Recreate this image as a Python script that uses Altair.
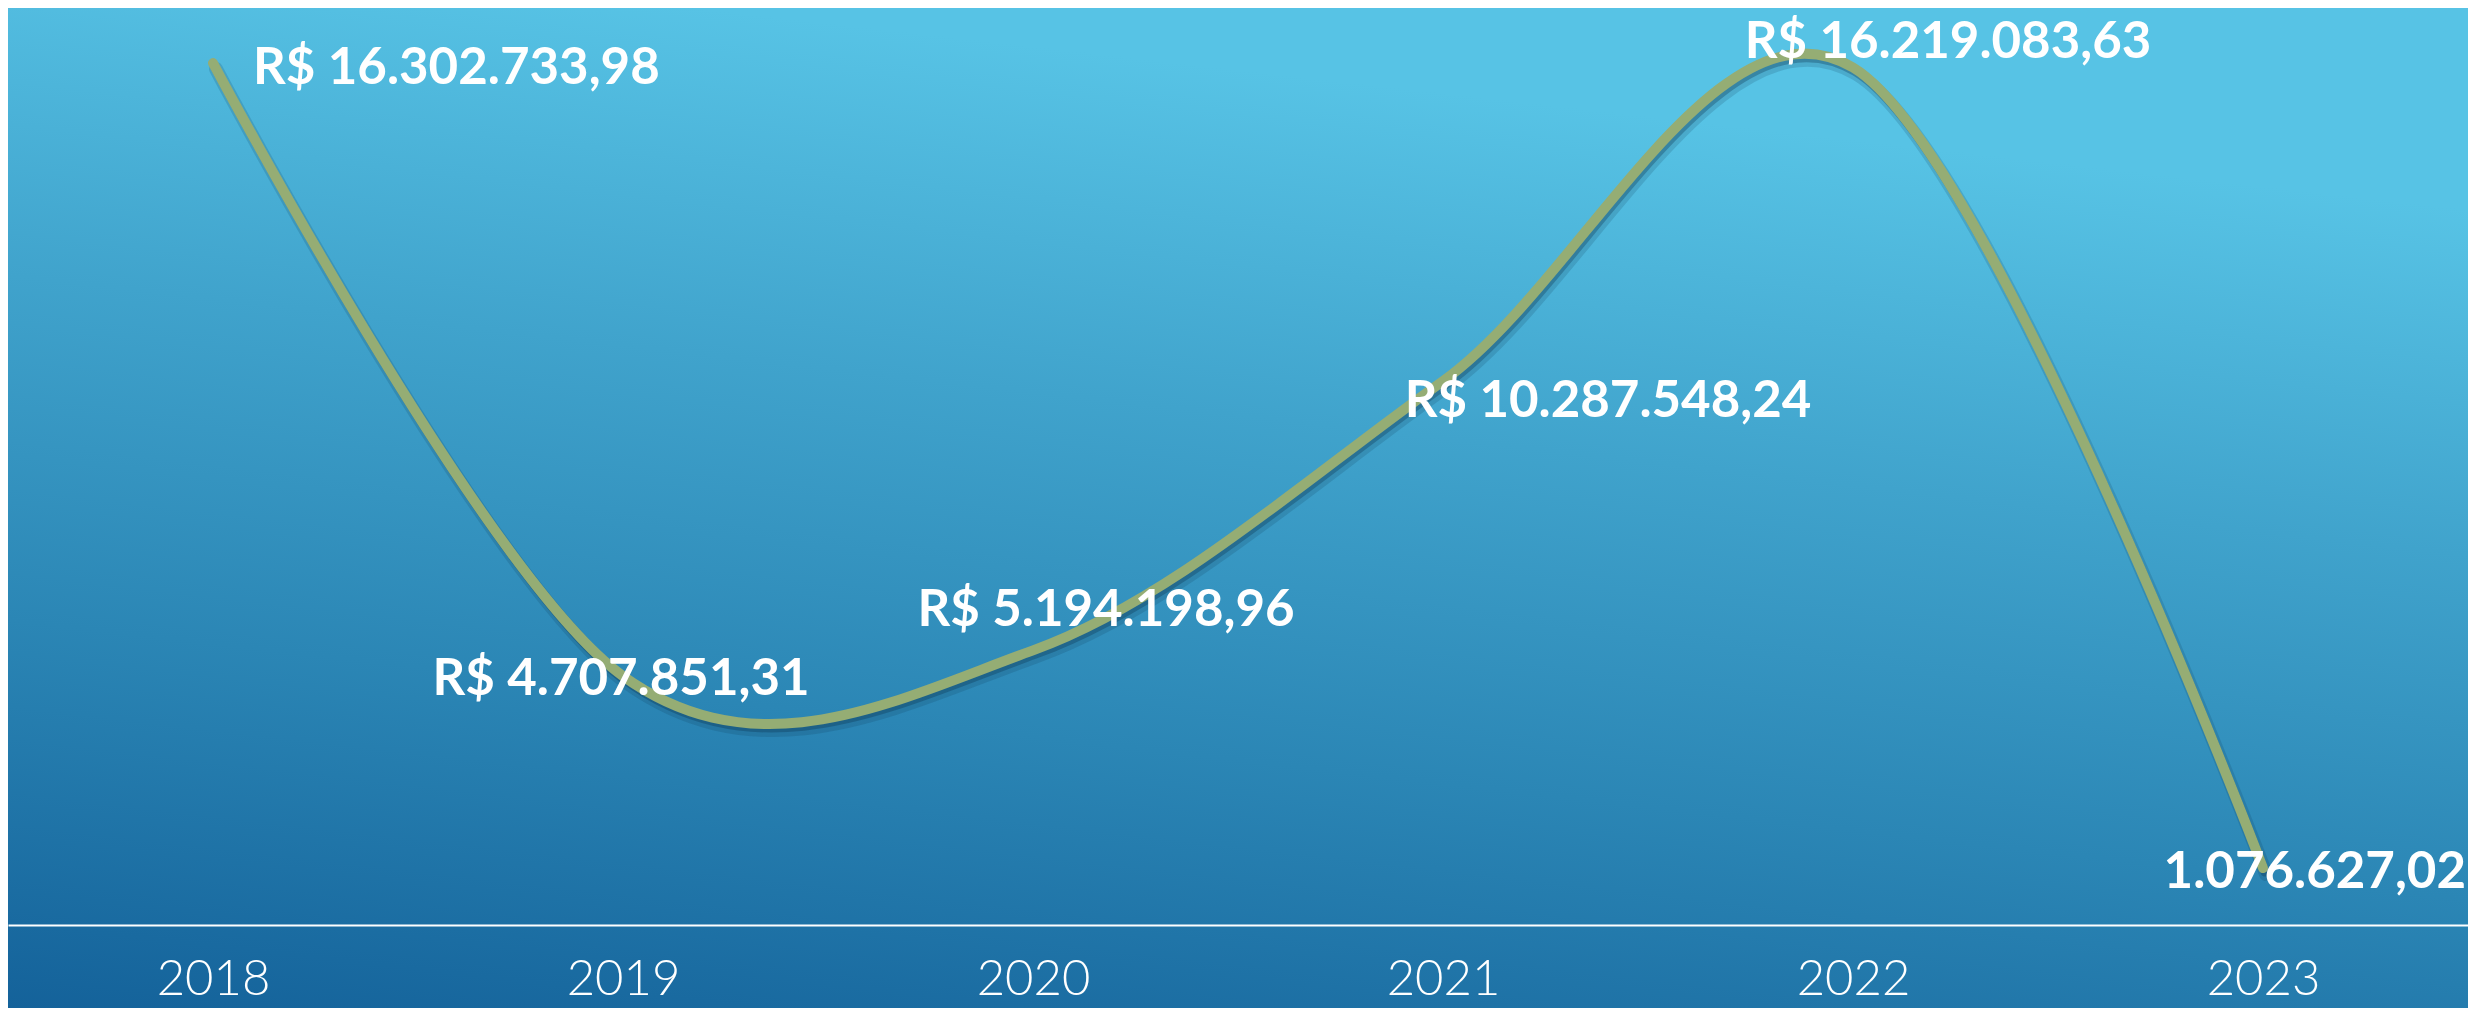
import altair as alt
import pandas as pd

# ---- data ----
years = ["2018", "2019", "2020", "2021", "2022", "2023"]
values = [16302733.98, 4707851.31, 5194198.96, 10287548.24, 16219083.63, 1076627.02]
labels = ["R$ 16.302.733,98", "R$ 4.707.851,31", "R$ 5.194.198,96",
          "R$ 10.287.548,24", "R$ 16.219.083,63", "1.076.627,02"]

df = pd.DataFrame({"year": years, "value": values, "label": labels})

# ---- layout / style ----
W, H = 2460, 917
PAD_BOTTOM = 83
Y_MAX = 17344000

label_style = {
    "2018": dict(align="left", dx=40, dy=6),
    "2019": dict(align="center", dx=-2, dy=4),
    "2020": dict(align="center", dx=73, dy=-39),
    "2021": dict(align="center", dx=165, dy=21),
    "2022": dict(align="center", dx=95, dy=-24),
    "2023": dict(align="right", dx=203, dy=5),
}

x_enc = alt.X(
    "year:O",
    scale=alt.Scale(type="point", padding=0.5),
    axis=alt.Axis(
        title=None, labelAngle=0, ticks=False, grid=False,
        domainColor="white", domainWidth=2,
        labelColor="white", labelFont="Lato", labelFontWeight=300,
        labelFontSize=49, labelPadding=30, zindex=2,
    ),
)
y_enc = alt.Y("value:Q", scale=alt.Scale(domain=[0, Y_MAX], nice=False, zero=True), axis=None)

gradient = alt.LinearGradient(
    gradient="linear",
    stops=[
        alt.GradientStop(color="#14629a", offset=0),
        alt.GradientStop(color="#2b86b5", offset=0.36),
        alt.GradientStop(color="#40a3cc", offset=0.68),
        alt.GradientStop(color="#57c3e5", offset=1),
    ],
    x1=0, y1=1, x2=0.28, y2=0,
)

bg = alt.Chart(pd.DataFrame({"k": [0]})).mark_rect(color=gradient).encode(
    x=alt.value(0), x2=alt.value(W), y=alt.value(0), y2=alt.value(H + PAD_BOTTOM)
)

base = alt.Chart(df)

shadow1 = base.mark_line(
    interpolate="cardinal", tension=0, color="#0b2f4a", opacity=0.16,
    strokeWidth=14, strokeCap="round", xOffset=3, yOffset=6,
).encode(x=x_enc, y=y_enc)

shadow2 = base.mark_line(
    interpolate="cardinal", tension=0, color="#0b2f4a", opacity=0.3,
    strokeWidth=9, strokeCap="round", xOffset=2, yOffset=4,
).encode(x=x_enc, y=y_enc)

line = base.mark_line(
    interpolate="cardinal", tension=0, color="#95ad74",
    strokeWidth=10, strokeCap="round",
).encode(x=x_enc, y=y_enc)

text_layers = []
for yr in years:
    st = label_style[yr]
    text_layers.append(
        base.transform_filter(alt.datum.year == yr).mark_text(
            font="Lato", fontWeight="bold", fontSize=51, color="white",
            baseline="middle", align=st["align"], dx=st["dx"], dy=st["dy"],
        ).encode(x=x_enc, y=y_enc, text="label:N")
    )

chart = alt.layer(bg, shadow1, shadow2, line, *text_layers).properties(
    width=W, height=H,
    autosize=alt.AutoSizeParams(type="none"),
    padding={"left": 0, "top": 0, "right": 0, "bottom": PAD_BOTTOM},
    background="#14629a",
).configure_view(strokeWidth=0)

chart.save("out.html", embed_options={"renderer": "svg", "actions": False})
